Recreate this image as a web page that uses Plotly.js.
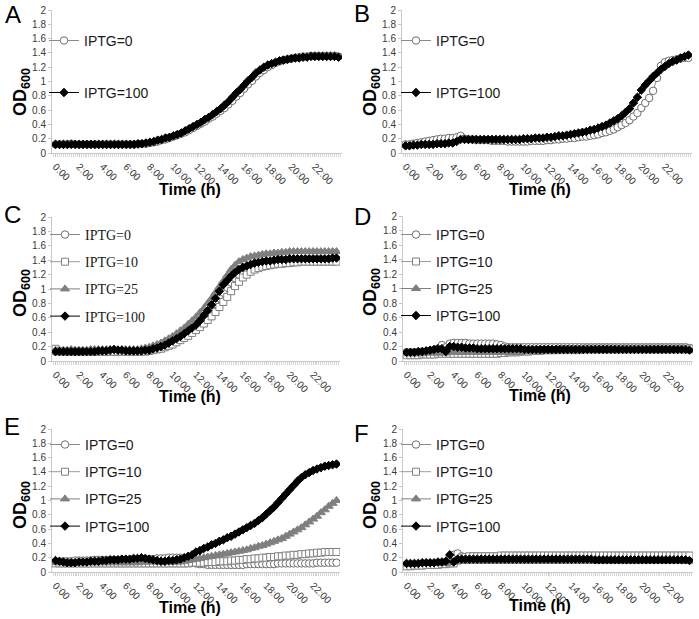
<!DOCTYPE html>
<html><head><meta charset="utf-8">
<script src="https://cdn.plot.ly/plotly-3.0.1.min.js"></script>
<style>html,body{margin:0;padding:0;background:#fff}#chart{width:699px;height:619px}</style>
</head><body><div id="chart"></div>
<script>
// ---------- DATA ----------
const timeMin = [0,20,40,60,80,100,120,140,160,180,200,220,240,260,280,300,320,340,360,380,400,420,440,460,480,500,520,540,560,580,600,620,640,660,680,700,720,740,760,780,800,820,840,860,880,900,920,940,960,980,1000,1020,1040,1060,1080,1100,1120,1140,1160,1180,1200,1220,1240,1260,1280,1300,1320,1340,1360,1380,1400,1420,1440];
const xTickHours = [0,2,4,6,8,10,12,14,16,18,20,22];
const xTickLabels = ["0:00","2:00","4:00","6:00","8:00","10:00","12:00","14:00","16:00","18:00","20:00","22:00"];
const yTickVals = [0,0.2,0.4,0.6,0.8,1,1.2,1.4,1.6,1.8,2];
const yTickLabels = ["0","0.2","0.4","0.6","0.8","1","1.2","1.4","1.6","1.8","2"];
const panelLetters = ["A","B","C","D","E","F"];

const A_IPTG0 = [
0.12,0.12,0.12, 0.12,0.13,0.12, 0.12,0.12,0.12, 0.12,0.12,0.12, 0.12,0.12,0.12, 0.12,0.12,0.12,
0.12,0.12,0.12, 0.12,0.13,0.13, 0.14,0.15,0.16, 0.18,0.19,0.21, 0.23,0.25,0.27, 0.29,0.32,0.35,
0.38,0.41,0.44, 0.48,0.51,0.55, 0.59,0.63,0.68, 0.73,0.79,0.84, 0.90,0.96,1.01, 1.07,1.12,1.16,
1.20,1.23,1.26, 1.28,1.30,1.31, 1.32,1.33,1.34, 1.35,1.35,1.36, 1.36,1.36,1.36, 1.36,1.36,1.36,
1.35];
const A_IPTG100 = [
0.12,0.12,0.12, 0.12,0.12,0.12, 0.12,0.12,0.12, 0.12,0.12,0.12, 0.12,0.12,0.12, 0.12,0.12,0.12,
0.12,0.12,0.12, 0.13,0.13,0.14, 0.15,0.16,0.18, 0.19,0.21,0.22, 0.24,0.26,0.28, 0.31,0.34,0.37,
0.40,0.43,0.47, 0.50,0.54,0.58, 0.62,0.67,0.72, 0.78,0.84,0.89, 0.95,1.01,1.06, 1.12,1.16,1.20,
1.23,1.25,1.27, 1.29,1.30,1.31, 1.32,1.33,1.33, 1.34,1.34,1.35, 1.35,1.35,1.35, 1.35,1.35,1.35,
1.34];

const B_IPTG0 = [
0.12,0.12,0.13, 0.14,0.15,0.16, 0.17,0.18,0.19, 0.20,0.20,0.21, 0.21,0.22,0.24, 0.20,0.19,0.19,
0.18,0.18,0.18, 0.18,0.17,0.17, 0.17,0.17,0.16, 0.16,0.16,0.16, 0.16,0.16,0.17, 0.17,0.17,0.17,
0.18,0.18,0.19, 0.19,0.20,0.20, 0.21,0.21,0.22, 0.23,0.23,0.24, 0.25,0.26,0.28, 0.29,0.31,0.33,
0.36,0.39,0.42, 0.46,0.51,0.56, 0.63,0.70,0.77, 0.87,1.05,1.22, 1.27,1.29,1.30, 1.31,1.32,1.33,
1.33];
const B_IPTG100 = [
0.10,0.10,0.11, 0.11,0.12,0.12, 0.12,0.12,0.13, 0.13,0.13,0.14, 0.14,0.16,0.19, 0.19,0.19,0.19,
0.19,0.19,0.19, 0.19,0.19,0.19, 0.19,0.19,0.19, 0.19,0.19,0.19, 0.20,0.20,0.20, 0.21,0.21,0.21,
0.22,0.22,0.23, 0.24,0.24,0.25, 0.26,0.27,0.28, 0.29,0.30,0.32, 0.33,0.35,0.37, 0.39,0.42,0.45,
0.48,0.52,0.57, 0.62,0.70,0.78, 0.88,0.95,1.01, 1.07,1.12,1.17, 1.21,1.25,1.28, 1.30,1.33,1.35,
1.37];

const C_IPTG0 = [
0.13,0.13,0.13, 0.13,0.13,0.13, 0.13,0.13,0.13, 0.13,0.13,0.13, 0.13,0.13,0.13, 0.13,0.13,0.13,
0.13,0.13,0.13, 0.13,0.13,0.14, 0.15,0.16,0.17, 0.19,0.21,0.23, 0.26,0.29,0.32, 0.35,0.39,0.43,
0.47,0.52,0.58, 0.64,0.71,0.79, 0.87,0.95,1.02, 1.09,1.15,1.20, 1.24,1.27,1.30, 1.32,1.34,1.35,
1.36,1.37,1.38, 1.38,1.39,1.39, 1.40,1.40,1.40, 1.40,1.40,1.40, 1.40,1.40,1.40, 1.40,1.40,1.41,
1.41];
const C_IPTG10 = [
0.17,0.14,0.13, 0.13,0.13,0.13, 0.13,0.13,0.13, 0.13,0.13,0.13, 0.13,0.13,0.13, 0.13,0.13,0.13,
0.13,0.13,0.13, 0.13,0.13,0.13, 0.14,0.15,0.16, 0.17,0.19,0.21, 0.23,0.26,0.29, 0.32,0.35,0.39,
0.43,0.47,0.52, 0.57,0.62,0.68, 0.75,0.82,0.89, 0.97,1.04,1.10, 1.16,1.20,1.24, 1.27,1.29,1.31,
1.32,1.33,1.34, 1.35,1.35,1.36, 1.36,1.37,1.37, 1.38,1.38,1.38, 1.38,1.38,1.38, 1.38,1.38,1.38,
1.38];
const C_IPTG25 = [
0.15,0.15,0.15, 0.15,0.16,0.15, 0.15,0.15,0.15, 0.16,0.16,0.16, 0.16,0.16,0.16, 0.16,0.16,0.16,
0.16,0.16,0.16, 0.16,0.17,0.18, 0.19,0.21,0.23, 0.25,0.28,0.31, 0.34,0.38,0.42, 0.46,0.51,0.56,
0.61,0.67,0.73, 0.80,0.87,0.95, 1.03,1.11,1.19, 1.27,1.33,1.38, 1.41,1.43,1.45, 1.46,1.47,1.48,
1.49,1.49,1.50, 1.50,1.51,1.51, 1.52,1.52,1.52, 1.52,1.52,1.52, 1.52,1.52,1.52, 1.52,1.52,1.52,
1.52];
const C_IPTG100 = [
0.13,0.13,0.13, 0.13,0.13,0.13, 0.13,0.13,0.13, 0.13,0.13,0.14, 0.14,0.14,0.15, 0.16,0.15,0.15,
0.14,0.14,0.14, 0.14,0.14,0.15, 0.15,0.17,0.18, 0.20,0.22,0.25, 0.28,0.31,0.34, 0.38,0.42,0.46,
0.50,0.56,0.63, 0.70,0.78,0.87, 0.97,1.06,1.12, 1.18,1.23,1.27, 1.30,1.32,1.34, 1.36,1.37,1.38,
1.39,1.39,1.40, 1.41,1.41,1.41, 1.42,1.42,1.42, 1.42,1.42,1.42, 1.42,1.42,1.42, 1.42,1.42,1.43,
1.43];

const D_IPTG0 = [
0.12,0.12,0.12, 0.12,0.13,0.13, 0.14,0.15,0.17, 0.22,0.19,0.24, 0.25,0.25,0.25, 0.25,0.24,0.24,
0.24,0.24,0.24, 0.24,0.24,0.23, 0.22,0.20,0.19, 0.19,0.19,0.19, 0.19,0.19,0.19, 0.19,0.19,0.19,
0.19,0.19,0.19, 0.19,0.19,0.19, 0.19,0.19,0.19, 0.19,0.19,0.19, 0.19,0.19,0.19, 0.19,0.19,0.19,
0.19,0.19,0.19, 0.19,0.19,0.19, 0.19,0.19,0.19, 0.19,0.19,0.19, 0.19,0.19,0.19, 0.19,0.19,0.19,
0.18];
const D_IPTG10 = [
0.08,0.08,0.08, 0.08,0.09,0.09, 0.09,0.09,0.10, 0.10,0.10,0.10, 0.10,0.10,0.10, 0.10,0.10,0.10,
0.10,0.10,0.10, 0.10,0.10,0.10, 0.11,0.11,0.12, 0.12,0.12,0.13, 0.13,0.13,0.14, 0.14,0.14,0.15,
0.15,0.15,0.15, 0.16,0.16,0.16, 0.16,0.16,0.16, 0.17,0.17,0.17, 0.17,0.17,0.17, 0.17,0.17,0.17,
0.17,0.17,0.17, 0.17,0.17,0.17, 0.17,0.17,0.17, 0.17,0.17,0.17, 0.17,0.17,0.17, 0.17,0.17,0.17,
0.17];
const D_IPTG25 = [
0.10,0.10,0.10, 0.10,0.10,0.11, 0.11,0.11,0.11, 0.11,0.11,0.12, 0.12,0.12,0.12, 0.12,0.12,0.12,
0.12,0.12,0.12, 0.12,0.12,0.12, 0.12,0.12,0.12, 0.12,0.12,0.12, 0.13,0.13,0.13, 0.13,0.13,0.13,
0.13,0.13,0.13, 0.13,0.13,0.13, 0.13,0.13,0.13, 0.14,0.14,0.14, 0.14,0.14,0.14, 0.14,0.14,0.14,
0.14,0.14,0.14, 0.14,0.14,0.14, 0.14,0.14,0.14, 0.14,0.14,0.14, 0.14,0.14,0.14, 0.14,0.14,0.14,
0.14];
const D_IPTG100 = [
0.12,0.12,0.12, 0.13,0.13,0.14, 0.15,0.16,0.17, 0.17,0.13,0.20, 0.20,0.19,0.19, 0.18,0.18,0.18,
0.17,0.17,0.17, 0.17,0.17,0.17, 0.17,0.17,0.17, 0.17,0.17,0.17, 0.16,0.16,0.16, 0.16,0.16,0.16,
0.16,0.16,0.16, 0.16,0.16,0.16, 0.16,0.16,0.16, 0.16,0.16,0.16, 0.16,0.16,0.16, 0.16,0.16,0.16,
0.16,0.16,0.16, 0.16,0.16,0.16, 0.16,0.16,0.16, 0.16,0.16,0.16, 0.16,0.16,0.16, 0.16,0.16,0.16,
0.15];

const E_IPTG0 = [
0.13,0.14,0.15, 0.15,0.15,0.16, 0.16,0.16,0.16, 0.16,0.17,0.17, 0.17,0.17,0.17, 0.17,0.17,0.17,
0.17,0.17,0.18, 0.18,0.18,0.18, 0.18,0.18,0.19, 0.19,0.19,0.20, 0.20,0.20,0.20, 0.18,0.15,0.13,
0.12,0.11,0.11, 0.10,0.10,0.10, 0.10,0.10,0.10, 0.10,0.10,0.10, 0.10,0.11,0.11, 0.11,0.11,0.11,
0.11,0.11,0.11, 0.12,0.12,0.12, 0.12,0.12,0.12, 0.12,0.12,0.12, 0.12,0.13,0.13, 0.13,0.13,0.13,
0.13];
const E_IPTG10 = [
0.12,0.12,0.12, 0.12,0.12,0.12, 0.12,0.12,0.12, 0.12,0.12,0.12, 0.12,0.12,0.12, 0.12,0.12,0.12,
0.12,0.12,0.12, 0.12,0.12,0.12, 0.12,0.12,0.12, 0.12,0.12,0.12, 0.12,0.12,0.12, 0.12,0.12,0.13,
0.13,0.13,0.13, 0.14,0.14,0.14, 0.15,0.15,0.15, 0.16,0.16,0.17, 0.17,0.18,0.18, 0.19,0.19,0.20,
0.20,0.21,0.21, 0.22,0.22,0.23, 0.23,0.24,0.24, 0.25,0.25,0.26, 0.26,0.27,0.27, 0.28,0.28,0.28,
0.28];
const E_IPTG25 = [
0.13,0.13,0.13, 0.13,0.13,0.13, 0.13,0.13,0.13, 0.13,0.13,0.13, 0.13,0.13,0.13, 0.13,0.13,0.13,
0.13,0.13,0.13, 0.13,0.14,0.14, 0.14,0.14,0.14, 0.14,0.14,0.14, 0.14,0.14,0.14, 0.15,0.16,0.17,
0.18,0.19,0.20, 0.21,0.22,0.23, 0.24,0.25,0.26, 0.27,0.28,0.29, 0.30,0.31,0.33, 0.34,0.36,0.37,
0.39,0.41,0.43, 0.45,0.47,0.50, 0.53,0.56,0.59, 0.62,0.66,0.70, 0.74,0.78,0.83, 0.87,0.92,0.96,
1.00];
const E_IPTG100 = [
0.16,0.15,0.14, 0.13,0.13,0.13, 0.14,0.14,0.14, 0.15,0.15,0.15, 0.16,0.16,0.17, 0.17,0.17,0.18,
0.18,0.18,0.19, 0.19,0.20,0.19, 0.18,0.17,0.16, 0.15,0.15,0.16, 0.16,0.17,0.18, 0.20,0.22,0.24,
0.28,0.30,0.33, 0.35,0.38,0.40, 0.43,0.45,0.48, 0.50,0.53,0.56, 0.59,0.62,0.65, 0.68,0.72,0.76,
0.81,0.86,0.91, 0.97,1.03,1.09, 1.15,1.21,1.27, 1.32,1.36,1.39, 1.42,1.44,1.46, 1.48,1.49,1.50,
1.51];

const F_IPTG0 = [
0.10,0.10,0.10, 0.10,0.11,0.11, 0.11,0.11,0.12, 0.12,0.14,0.20, 0.24,0.26,0.22, 0.21,0.21,0.21,
0.21,0.21,0.21, 0.21,0.21,0.21, 0.21,0.21,0.21, 0.21,0.21,0.21, 0.21,0.21,0.21, 0.21,0.21,0.21,
0.21,0.21,0.21, 0.21,0.21,0.21, 0.21,0.21,0.21, 0.21,0.21,0.21, 0.21,0.21,0.21, 0.21,0.21,0.21,
0.21,0.21,0.21, 0.21,0.21,0.21, 0.21,0.21,0.21, 0.21,0.21,0.21, 0.21,0.21,0.21, 0.21,0.21,0.21,
0.21];
const F_IPTG10 = [
0.08,0.08,0.09, 0.09,0.09,0.10, 0.10,0.10,0.10, 0.11,0.11,0.12, 0.12,0.16,0.20, 0.21,0.22,0.22,
0.22,0.22,0.22, 0.22,0.22,0.22, 0.23,0.23,0.23, 0.23,0.23,0.23, 0.23,0.23,0.23, 0.23,0.23,0.23,
0.23,0.23,0.23, 0.23,0.23,0.23, 0.23,0.23,0.23, 0.23,0.23,0.23, 0.23,0.23,0.23, 0.23,0.23,0.23,
0.23,0.23,0.23, 0.23,0.23,0.23, 0.23,0.23,0.23, 0.23,0.23,0.23, 0.23,0.23,0.23, 0.23,0.23,0.23,
0.23];
const F_IPTG25 = [
0.11,0.11,0.11, 0.12,0.12,0.12, 0.12,0.12,0.12, 0.12,0.12,0.13, 0.14,0.15,0.15, 0.15,0.15,0.15,
0.15,0.15,0.15, 0.15,0.15,0.15, 0.15,0.15,0.15, 0.15,0.15,0.15, 0.15,0.15,0.15, 0.15,0.15,0.15,
0.15,0.15,0.15, 0.15,0.15,0.15, 0.15,0.15,0.15, 0.15,0.15,0.15, 0.15,0.15,0.15, 0.15,0.15,0.15,
0.15,0.15,0.15, 0.15,0.15,0.15, 0.15,0.15,0.15, 0.15,0.15,0.15, 0.15,0.15,0.15, 0.15,0.15,0.15,
0.15];
const F_IPTG100 = [
0.12,0.12,0.12, 0.12,0.13,0.13, 0.13,0.13,0.14, 0.14,0.15,0.24, 0.14,0.18,0.18, 0.18,0.18,0.18,
0.18,0.18,0.18, 0.18,0.18,0.18, 0.18,0.18,0.18, 0.18,0.18,0.18, 0.18,0.18,0.18, 0.18,0.18,0.18,
0.18,0.18,0.18, 0.18,0.18,0.18, 0.18,0.18,0.18, 0.18,0.18,0.18, 0.17,0.17,0.17, 0.17,0.17,0.17,
0.17,0.17,0.17, 0.17,0.17,0.17, 0.17,0.17,0.17, 0.17,0.17,0.17, 0.17,0.17,0.17, 0.17,0.17,0.17,
0.16];

// ---------- LAYOUT / STYLE ----------
const W = 699, H = 619;
const fx = px => px / W;
const fy = py => 1 - py / H;
const timeH = timeMin.map(m => m / 60);

const seriesStyle = {
  "IPTG=0":   {symbol: "circle",      size: 7.5, fill: "#ffffff", edge: "#6e6e6e", line: "#8a8a8a"},
  "IPTG=10":  {symbol: "square",      size: 7,   fill: "#ffffff", edge: "#808080", line: "#9a9a9a"},
  "IPTG=25":  {symbol: "triangle-up", size: 8,   fill: "#7f7f7f", edge: "#7f7f7f", line: "#7f7f7f"},
  "IPTG=100": {symbol: "diamond",     size: 6.5, fill: "#000000", edge: "#000000", line: "#000000"}
};

const SANS = "Liberation Sans, Arial, sans-serif";
const SERIF = "Liberation Serif, Times New Roman, serif";

const panels = [
  {series: [["IPTG=0", A_IPTG0], ["IPTG=100", A_IPTG100]], x0: 52, x1: 342, yT: 10, yB: 153,
   leg: {mx: 64, my: 38, gap: 49, font: SANS}, letter: [13, 14], title: [190, 189], od: [21, 92]},
  {series: [["IPTG=0", B_IPTG0], ["IPTG=100", B_IPTG100]], x0: 402, x1: 692, yT: 10, yB: 153,
   leg: {mx: 416, my: 38, gap: 49, font: SANS}, letter: [362, 13], title: [540, 189], od: [371, 92]},
  {series: [["IPTG=0", C_IPTG0], ["IPTG=10", C_IPTG10], ["IPTG=25", C_IPTG25], ["IPTG=100", C_IPTG100]], x0: 52, x1: 340, yT: 217, yB: 361,
   leg: {mx: 65, my: 232, gap: 24.2, font: SERIF}, letter: [12, 214], title: [190, 396], od: [21, 293]},
  {series: [["IPTG=0", D_IPTG0], ["IPTG=10", D_IPTG10], ["IPTG=25", D_IPTG25], ["IPTG=100", D_IPTG100]], x0: 403, x1: 693, yT: 216, yB: 361,
   leg: {mx: 416, my: 232, gap: 24, font: SANS}, letter: [362, 216], title: [540, 395], od: [371, 292]},
  {series: [["IPTG=0", E_IPTG0], ["IPTG=10", E_IPTG10], ["IPTG=25", E_IPTG25], ["IPTG=100", E_IPTG100]], x0: 52, x1: 340, yT: 429, yB: 572,
   leg: {mx: 65, my: 442, gap: 24.2, font: SANS}, letter: [12, 427], title: [190, 607], od: [21, 505]},
  {series: [["IPTG=0", F_IPTG0], ["IPTG=10", F_IPTG10], ["IPTG=25", F_IPTG25], ["IPTG=100", F_IPTG100]], x0: 403, x1: 693, yT: 429, yB: 572,
   leg: {mx: 416, my: 442, gap: 24.2, font: SANS}, letter: [361, 433], title: [540, 605], od: [371, 505]}
];

const traces = [];
const layout = {
  width: W, height: H,
  margin: {l: 0, r: 0, t: 0, b: 0, pad: 0, autoexpand: false},
  paper_bgcolor: "#ffffff", plot_bgcolor: "rgba(0,0,0,0)",
  font: {family: SANS, color: "#404040"},
  annotations: [],
  showlegend: true
};

const LEG_FS = 14;
const ITEM_H = LEG_FS * 1.3;

panels.forEach((p, i) => {
  const k = i + 1;
  const xa = k === 1 ? "x" : "x" + k;
  const ya = k === 1 ? "y" : "y" + k;
  const legId = k === 1 ? "legend" : "legend" + k;
  layout[k === 1 ? "xaxis" : "xaxis" + k] = {
    domain: [fx(p.x0), fx(p.x1)], anchor: ya, automargin: false,
    range: [-0.3, 24.3], tickmode: "array", tickvals: xTickHours, ticktext: xTickLabels,
    tickangle: 45, tickfont: {family: SANS, size: 10, color: "#3a3a3a"},
    showline: true, linecolor: "#c8c8c8", linewidth: 1,
    ticks: "outside", ticklen: 3, tickcolor: "#c8c8c8",
    minor: {dtick: 1/6, tick0: 0, ticks: "outside", ticklen: 3, tickcolor: "#d8d8d8", showgrid: false},
    showgrid: false, zeroline: false, fixedrange: true
  };
  layout[k === 1 ? "yaxis" : "yaxis" + k] = {
    domain: [fy(p.yB), fy(p.yT)], anchor: xa, automargin: false,
    range: [0, 2], tickmode: "array", tickvals: yTickVals, ticktext: yTickLabels,
    tickfont: {family: SANS, size: 10, color: "#3a3a3a"},
    showline: true, linecolor: "#c8c8c8", linewidth: 1,
    ticks: "outside", ticklen: 3, tickcolor: "#c8c8c8",
    showgrid: false, zeroline: false, fixedrange: true
  };
  layout[legId] = {
    x: fx(p.leg.mx - 20), y: fy(p.leg.my - ITEM_H / 2 - 4), xanchor: "left", yanchor: "top",
    bgcolor: "rgba(0,0,0,0)", borderwidth: 0,
    font: {family: p.leg.font, size: LEG_FS, color: "#1a1a1a"},
    traceorder: "grouped", tracegroupgap: p.leg.gap - ITEM_H, itemwidth: 30
  };
  p.series.forEach(([name, vals]) => {
    const s = seriesStyle[name];
    traces.push({
      type: "scatter", mode: "lines+markers", name: name,
      x: timeH, y: vals, xaxis: xa, yaxis: ya,
      legend: legId, legendgroup: panelLetters[i] + name,
      line: {color: s.line, width: 1},
      marker: {symbol: s.symbol, size: s.size, color: s.fill, line: {color: s.edge, width: 1}},
      hoverinfo: "skip"
    });
  });
  layout.annotations.push(
    {text: panelLetters[i], xref: "paper", yref: "paper", x: fx(p.letter[0]), y: fy(p.letter[1]),
     xanchor: "center", yanchor: "middle", showarrow: false,
     font: {family: SANS, size: 24, color: "#000"}},
    {text: "<b>Time (h)</b>", xref: "paper", yref: "paper", x: fx(p.title[0]), y: fy(p.title[1]),
     xanchor: "center", yanchor: "middle", showarrow: false,
     font: {family: SANS, size: 16, color: "#000"}},
    {text: "<b>OD<sub>600</sub></b>", xref: "paper", yref: "paper", x: fx(p.od[0]), y: fy(p.od[1]),
     xanchor: "center", yanchor: "middle", showarrow: false, textangle: -90,
     font: {family: SANS, size: 18, color: "#000"}}
  );
});

Plotly.newPlot("chart", traces, layout, {staticPlot: true, displayModeBar: false});
</script>
</body></html>
